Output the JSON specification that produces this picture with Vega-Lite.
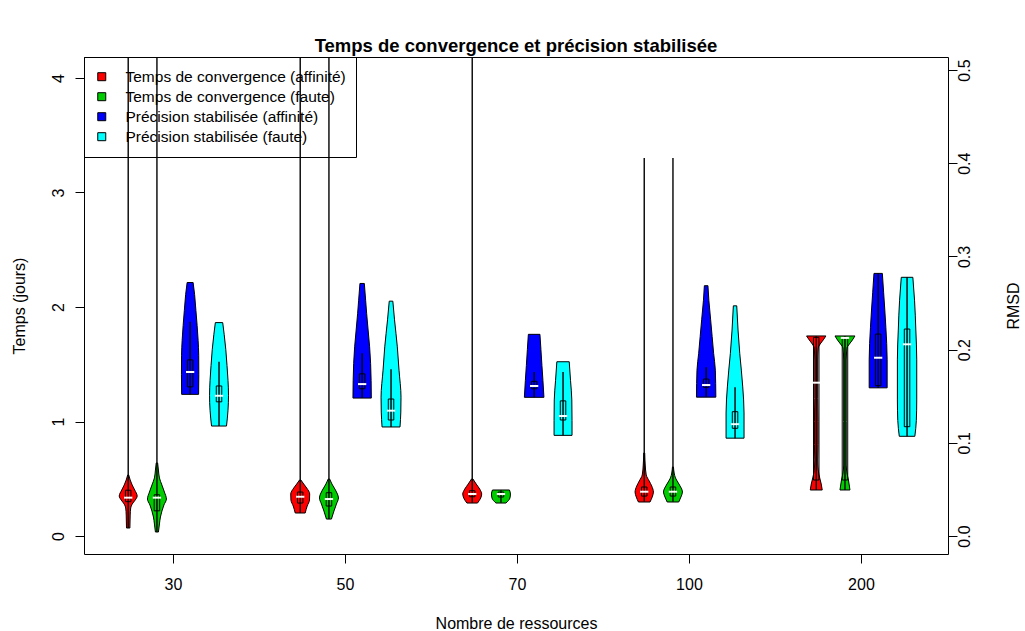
{
  "$schema": "https://vega.github.io/schema/vega-lite/v6.json",
  "width": 864,
  "height": 497,
  "autosize": "none",
  "padding": {"left": 84, "top": 57, "right": 77, "bottom": 77},
  "background": "white",
  "title": {"text": "Temps de convergence et précision stabilisée", "fontSize": 18.5, "fontWeight": "bold", "anchor": "middle", "frame": "group", "offset": 5, "dy": 19, "baseline": "alphabetic", "color": "black", "font": "Liberation Sans"},
  "config": {
    "font": "Liberation Sans",
    "view": {"stroke": "black", "strokeWidth": 1},
    "axis": {"labelFont": "Liberation Sans", "titleFont": "Liberation Sans", "labelColor": "black", "titleColor": "black", "tickColor": "black", "titleFontWeight": "normal", "grid": false, "domain": false, "labelFontSize": 16, "titleFontSize": 16, "tickSize": 9, "labelFlush": false, "labelOverlap": false}
  },
  "datasets": {
    "vt": [
      {"g": "30", "s": "Temps de convergence (affinité)", "y": 0.533, "d": 0.5},
      {"g": "30", "s": "Temps de convergence (affinité)", "y": 0.489, "d": 2},
      {"g": "30", "s": "Temps de convergence (affinité)", "y": 0.445, "d": 4},
      {"g": "30", "s": "Temps de convergence (affinité)", "y": 0.402, "d": 6.5},
      {"g": "30", "s": "Temps de convergence (affinité)", "y": 0.349, "d": 9},
      {"g": "30", "s": "Temps de convergence (affinité)", "y": 0.314, "d": 7},
      {"g": "30", "s": "Temps de convergence (affinité)", "y": 0.279, "d": 4},
      {"g": "30", "s": "Temps de convergence (affinité)", "y": 0.245, "d": 2.5},
      {"g": "30", "s": "Temps de convergence (affinité)", "y": 0.183, "d": 2},
      {"g": "30", "s": "Temps de convergence (affinité)", "y": 0.07, "d": 1.7},
      {"g": "30", "s": "Temps de convergence (faute)", "y": 0.638, "d": 0.7},
      {"g": "30", "s": "Temps de convergence (faute)", "y": 0.576, "d": 1.5},
      {"g": "30", "s": "Temps de convergence (faute)", "y": 0.507, "d": 2.5},
      {"g": "30", "s": "Temps de convergence (faute)", "y": 0.445, "d": 5},
      {"g": "30", "s": "Temps de convergence (faute)", "y": 0.384, "d": 7.5},
      {"g": "30", "s": "Temps de convergence (faute)", "y": 0.323, "d": 9.5},
      {"g": "30", "s": "Temps de convergence (faute)", "y": 0.271, "d": 7},
      {"g": "30", "s": "Temps de convergence (faute)", "y": 0.218, "d": 5},
      {"g": "30", "s": "Temps de convergence (faute)", "y": 0.166, "d": 3.5},
      {"g": "30", "s": "Temps de convergence (faute)", "y": 0.105, "d": 2.5},
      {"g": "30", "s": "Temps de convergence (faute)", "y": 0.035, "d": 1.5},
      {"g": "50", "s": "Temps de convergence (affinité)", "y": 0.489, "d": 0.7},
      {"g": "50", "s": "Temps de convergence (affinité)", "y": 0.454, "d": 3.5},
      {"g": "50", "s": "Temps de convergence (affinité)", "y": 0.419, "d": 6.5},
      {"g": "50", "s": "Temps de convergence (affinité)", "y": 0.367, "d": 9.5},
      {"g": "50", "s": "Temps de convergence (affinité)", "y": 0.314, "d": 9.3},
      {"g": "50", "s": "Temps de convergence (affinité)", "y": 0.262, "d": 7},
      {"g": "50", "s": "Temps de convergence (affinité)", "y": 0.201, "d": 5},
      {"g": "50", "s": "Temps de convergence (faute)", "y": 0.498, "d": 0.7},
      {"g": "50", "s": "Temps de convergence (faute)", "y": 0.454, "d": 3},
      {"g": "50", "s": "Temps de convergence (faute)", "y": 0.402, "d": 6.5},
      {"g": "50", "s": "Temps de convergence (faute)", "y": 0.332, "d": 9.5},
      {"g": "50", "s": "Temps de convergence (faute)", "y": 0.279, "d": 7.5},
      {"g": "50", "s": "Temps de convergence (faute)", "y": 0.218, "d": 5},
      {"g": "50", "s": "Temps de convergence (faute)", "y": 0.148, "d": 2.5},
      {"g": "70", "s": "Temps de convergence (affinité)", "y": 0.498, "d": 0.7},
      {"g": "70", "s": "Temps de convergence (affinité)", "y": 0.454, "d": 4},
      {"g": "70", "s": "Temps de convergence (affinité)", "y": 0.41, "d": 7.5},
      {"g": "70", "s": "Temps de convergence (affinité)", "y": 0.367, "d": 9.5},
      {"g": "70", "s": "Temps de convergence (affinité)", "y": 0.332, "d": 8.5},
      {"g": "70", "s": "Temps de convergence (affinité)", "y": 0.288, "d": 5.3},
      {"g": "70", "s": "Temps de convergence (faute)", "y": 0.402, "d": 8.5},
      {"g": "70", "s": "Temps de convergence (faute)", "y": 0.367, "d": 9.5},
      {"g": "70", "s": "Temps de convergence (faute)", "y": 0.332, "d": 9},
      {"g": "70", "s": "Temps de convergence (faute)", "y": 0.288, "d": 5},
      {"g": "100", "s": "Temps de convergence (affinité)", "y": 0.725, "d": 0.5},
      {"g": "100", "s": "Temps de convergence (affinité)", "y": 0.62, "d": 1},
      {"g": "100", "s": "Temps de convergence (affinité)", "y": 0.533, "d": 2},
      {"g": "100", "s": "Temps de convergence (affinité)", "y": 0.48, "d": 5},
      {"g": "100", "s": "Temps de convergence (affinité)", "y": 0.437, "d": 7.5},
      {"g": "100", "s": "Temps de convergence (affinité)", "y": 0.384, "d": 9.2},
      {"g": "100", "s": "Temps de convergence (affinité)", "y": 0.341, "d": 8},
      {"g": "100", "s": "Temps de convergence (affinité)", "y": 0.297, "d": 5.8},
      {"g": "100", "s": "Temps de convergence (faute)", "y": 0.603, "d": 0.5},
      {"g": "100", "s": "Temps de convergence (faute)", "y": 0.55, "d": 1.2},
      {"g": "100", "s": "Temps de convergence (faute)", "y": 0.507, "d": 2.5},
      {"g": "100", "s": "Temps de convergence (faute)", "y": 0.454, "d": 6},
      {"g": "100", "s": "Temps de convergence (faute)", "y": 0.384, "d": 9.5},
      {"g": "100", "s": "Temps de convergence (faute)", "y": 0.341, "d": 8},
      {"g": "100", "s": "Temps de convergence (faute)", "y": 0.297, "d": 5.8},
      {"g": "200", "s": "Temps de convergence (affinité)", "y": 1.747, "d": 9.7},
      {"g": "200", "s": "Temps de convergence (affinité)", "y": 1.712, "d": 7},
      {"g": "200", "s": "Temps de convergence (affinité)", "y": 1.677, "d": 4},
      {"g": "200", "s": "Temps de convergence (affinité)", "y": 1.642, "d": 2},
      {"g": "200", "s": "Temps de convergence (affinité)", "y": 1.537, "d": 1.5},
      {"g": "200", "s": "Temps de convergence (affinité)", "y": 1.2, "d": 1.5},
      {"g": "200", "s": "Temps de convergence (affinité)", "y": 1.0, "d": 1.8},
      {"g": "200", "s": "Temps de convergence (affinité)", "y": 0.8, "d": 1.8},
      {"g": "200", "s": "Temps de convergence (affinité)", "y": 0.664, "d": 1.5},
      {"g": "200", "s": "Temps de convergence (affinité)", "y": 0.576, "d": 2},
      {"g": "200", "s": "Temps de convergence (affinité)", "y": 0.507, "d": 3.5},
      {"g": "200", "s": "Temps de convergence (affinité)", "y": 0.454, "d": 5},
      {"g": "200", "s": "Temps de convergence (affinité)", "y": 0.402, "d": 6},
      {"g": "200", "s": "Temps de convergence (faute)", "y": 1.747, "d": 10},
      {"g": "200", "s": "Temps de convergence (faute)", "y": 1.712, "d": 7.5},
      {"g": "200", "s": "Temps de convergence (faute)", "y": 1.677, "d": 4.5},
      {"g": "200", "s": "Temps de convergence (faute)", "y": 1.642, "d": 2},
      {"g": "200", "s": "Temps de convergence (faute)", "y": 1.537, "d": 1.3},
      {"g": "200", "s": "Temps de convergence (faute)", "y": 1.0, "d": 1.3},
      {"g": "200", "s": "Temps de convergence (faute)", "y": 0.62, "d": 1.3},
      {"g": "200", "s": "Temps de convergence (faute)", "y": 0.55, "d": 2},
      {"g": "200", "s": "Temps de convergence (faute)", "y": 0.489, "d": 3.5},
      {"g": "200", "s": "Temps de convergence (faute)", "y": 0.402, "d": 5}
    ],
    "vr": [
      {"g": "30", "s": "Précision stabilisée (affinité)", "y": 0.272, "d": 3},
      {"g": "30", "s": "Précision stabilisée (affinité)", "y": 0.259, "d": 4.5},
      {"g": "30", "s": "Précision stabilisée (affinité)", "y": 0.242, "d": 5.8},
      {"g": "30", "s": "Précision stabilisée (affinité)", "y": 0.226, "d": 7},
      {"g": "30", "s": "Précision stabilisée (affinité)", "y": 0.21, "d": 8},
      {"g": "30", "s": "Précision stabilisée (affinité)", "y": 0.194, "d": 8.6},
      {"g": "30", "s": "Précision stabilisée (affinité)", "y": 0.173, "d": 8.7},
      {"g": "30", "s": "Précision stabilisée (affinité)", "y": 0.152, "d": 8.5},
      {"g": "30", "s": "Précision stabilisée (faute)", "y": 0.229, "d": 3.7},
      {"g": "30", "s": "Précision stabilisée (faute)", "y": 0.216, "d": 5.2},
      {"g": "30", "s": "Précision stabilisée (faute)", "y": 0.2, "d": 6.8},
      {"g": "30", "s": "Précision stabilisée (faute)", "y": 0.183, "d": 8},
      {"g": "30", "s": "Précision stabilisée (faute)", "y": 0.167, "d": 9},
      {"g": "30", "s": "Précision stabilisée (faute)", "y": 0.151, "d": 9.5},
      {"g": "30", "s": "Précision stabilisée (faute)", "y": 0.135, "d": 9},
      {"g": "30", "s": "Précision stabilisée (faute)", "y": 0.118, "d": 7.5},
      {"g": "50", "s": "Précision stabilisée (affinité)", "y": 0.271, "d": 2.2},
      {"g": "50", "s": "Précision stabilisée (affinité)", "y": 0.253, "d": 3.5},
      {"g": "50", "s": "Précision stabilisée (affinité)", "y": 0.239, "d": 4.5},
      {"g": "50", "s": "Précision stabilisée (affinité)", "y": 0.221, "d": 6},
      {"g": "50", "s": "Précision stabilisée (affinité)", "y": 0.203, "d": 7.5},
      {"g": "50", "s": "Précision stabilisée (affinité)", "y": 0.185, "d": 8.5},
      {"g": "50", "s": "Précision stabilisée (affinité)", "y": 0.167, "d": 9},
      {"g": "50", "s": "Précision stabilisée (affinité)", "y": 0.148, "d": 9.2},
      {"g": "50", "s": "Précision stabilisée (faute)", "y": 0.252, "d": 1.8},
      {"g": "50", "s": "Précision stabilisée (faute)", "y": 0.232, "d": 3.5},
      {"g": "50", "s": "Précision stabilisée (faute)", "y": 0.203, "d": 6.3},
      {"g": "50", "s": "Précision stabilisée (faute)", "y": 0.178, "d": 8},
      {"g": "50", "s": "Précision stabilisée (faute)", "y": 0.149, "d": 10},
      {"g": "50", "s": "Précision stabilisée (faute)", "y": 0.133, "d": 9.8},
      {"g": "50", "s": "Précision stabilisée (faute)", "y": 0.117, "d": 9},
      {"g": "70", "s": "Précision stabilisée (affinité)", "y": 0.2164, "d": 5.8},
      {"g": "70", "s": "Précision stabilisée (affinité)", "y": 0.2, "d": 6.8},
      {"g": "70", "s": "Précision stabilisée (affinité)", "y": 0.183, "d": 7.8},
      {"g": "70", "s": "Précision stabilisée (affinité)", "y": 0.167, "d": 8.8},
      {"g": "70", "s": "Précision stabilisée (affinité)", "y": 0.1488, "d": 9.8},
      {"g": "70", "s": "Précision stabilisée (faute)", "y": 0.187, "d": 6.2},
      {"g": "70", "s": "Précision stabilisée (faute)", "y": 0.167, "d": 7.5},
      {"g": "70", "s": "Précision stabilisée (faute)", "y": 0.146, "d": 8.8},
      {"g": "70", "s": "Précision stabilisée (faute)", "y": 0.124, "d": 9},
      {"g": "70", "s": "Précision stabilisée (faute)", "y": 0.108, "d": 9},
      {"g": "100", "s": "Précision stabilisée (affinité)", "y": 0.2686, "d": 1.8},
      {"g": "100", "s": "Précision stabilisée (affinité)", "y": 0.253, "d": 2.7},
      {"g": "100", "s": "Précision stabilisée (affinité)", "y": 0.232, "d": 4.5},
      {"g": "100", "s": "Précision stabilisée (affinité)", "y": 0.214, "d": 6},
      {"g": "100", "s": "Précision stabilisée (affinité)", "y": 0.196, "d": 7.5},
      {"g": "100", "s": "Précision stabilisée (affinité)", "y": 0.178, "d": 9.2},
      {"g": "100", "s": "Précision stabilisée (affinité)", "y": 0.149, "d": 9.7},
      {"g": "100", "s": "Précision stabilisée (faute)", "y": 0.247, "d": 1.7},
      {"g": "100", "s": "Précision stabilisée (faute)", "y": 0.221, "d": 3},
      {"g": "100", "s": "Précision stabilisée (faute)", "y": 0.196, "d": 4.7},
      {"g": "100", "s": "Précision stabilisée (faute)", "y": 0.178, "d": 6.3},
      {"g": "100", "s": "Précision stabilisée (faute)", "y": 0.16, "d": 7.7},
      {"g": "100", "s": "Précision stabilisée (faute)", "y": 0.132, "d": 9},
      {"g": "100", "s": "Précision stabilisée (faute)", "y": 0.105, "d": 9},
      {"g": "200", "s": "Précision stabilisée (affinité)", "y": 0.2818, "d": 4.2},
      {"g": "200", "s": "Précision stabilisée (affinité)", "y": 0.261, "d": 5.5},
      {"g": "200", "s": "Précision stabilisée (affinité)", "y": 0.224, "d": 7.7},
      {"g": "200", "s": "Précision stabilisée (affinité)", "y": 0.189, "d": 9},
      {"g": "200", "s": "Précision stabilisée (affinité)", "y": 0.159, "d": 9},
      {"g": "200", "s": "Précision stabilisée (faute)", "y": 0.2776, "d": 5.8},
      {"g": "200", "s": "Précision stabilisée (faute)", "y": 0.253, "d": 7.5},
      {"g": "200", "s": "Précision stabilisée (faute)", "y": 0.221, "d": 8.8},
      {"g": "200", "s": "Précision stabilisée (faute)", "y": 0.189, "d": 9.7},
      {"g": "200", "s": "Précision stabilisée (faute)", "y": 0.146, "d": 9.7},
      {"g": "200", "s": "Précision stabilisée (faute)", "y": 0.124, "d": 9.3},
      {"g": "200", "s": "Précision stabilisée (faute)", "y": 0.107, "d": 7.8}
    ],
    "st": [
      {"g": "30", "s": "Temps de convergence (affinité)", "lo": 0.07, "q1": 0.30, "med": 0.335, "q3": 0.40, "hi": 4.5},
      {"g": "30", "s": "Temps de convergence (faute)", "lo": 0.035, "q1": 0.22, "med": 0.335, "q3": 0.36, "hi": 4.5},
      {"g": "50", "s": "Temps de convergence (affinité)", "lo": 0.201, "q1": 0.288, "med": 0.343, "q3": 0.384, "hi": 4.5},
      {"g": "50", "s": "Temps de convergence (faute)", "lo": 0.148, "q1": 0.262, "med": 0.323, "q3": 0.378, "hi": 4.5},
      {"g": "70", "s": "Temps de convergence (affinité)", "lo": 0.291, "q1": 0.343, "med": 0.367, "q3": 0.396, "hi": 4.5},
      {"g": "70", "s": "Temps de convergence (faute)", "lo": 0.291, "q1": 0.341, "med": 0.367, "q3": 0.384, "hi": 0.40},
      {"g": "100", "s": "Temps de convergence (affinité)", "lo": 0.30, "q1": 0.349, "med": 0.387, "q3": 0.428, "hi": 3.30},
      {"g": "100", "s": "Temps de convergence (faute)", "lo": 0.30, "q1": 0.349, "med": 0.387, "q3": 0.428, "hi": 3.30},
      {"g": "200", "s": "Temps de convergence (affinité)", "lo": 0.402, "q1": 0.489, "med": 1.339, "q3": 1.735, "hi": 1.747},
      {"g": "200", "s": "Temps de convergence (faute)", "lo": 0.402, "q1": 0.489, "med": 1.73, "q3": 1.735, "hi": 1.747}
    ],
    "sr": [
      {"g": "30", "s": "Précision stabilisée (affinité)", "lo": 0.152, "q1": 0.160, "med": 0.176, "q3": 0.189, "hi": 0.230},
      {"g": "30", "s": "Précision stabilisée (faute)", "lo": 0.118, "q1": 0.144, "med": 0.1505, "q3": 0.161, "hi": 0.187},
      {"g": "50", "s": "Précision stabilisée (affinité)", "lo": 0.148, "q1": 0.158, "med": 0.163, "q3": 0.174, "hi": 0.196},
      {"g": "50", "s": "Précision stabilisée (faute)", "lo": 0.117, "q1": 0.1245, "med": 0.1345, "q3": 0.147, "hi": 0.179},
      {"g": "70", "s": "Précision stabilisée (affinité)", "lo": 0.149, "q1": 0.158, "med": 0.161, "q3": 0.166, "hi": 0.176},
      {"g": "70", "s": "Précision stabilisée (faute)", "lo": 0.108, "q1": 0.1245, "med": 0.1288, "q3": 0.145, "hi": 0.176},
      {"g": "100", "s": "Précision stabilisée (affinité)", "lo": 0.1495, "q1": 0.1595, "med": 0.162, "q3": 0.1684, "hi": 0.181},
      {"g": "100", "s": "Précision stabilisée (faute)", "lo": 0.105, "q1": 0.1156, "med": 0.120, "q3": 0.1334, "hi": 0.1595},
      {"g": "200", "s": "Précision stabilisée (affinité)", "lo": 0.159, "q1": 0.1613, "med": 0.1913, "q3": 0.2167, "hi": 0.2818},
      {"g": "200", "s": "Précision stabilisée (faute)", "lo": 0.107, "q1": 0.1173, "med": 0.2057, "q3": 0.2221, "hi": 0.2776}
    ]
  },
  "layer": [
    {
      "layer": [
        {
          "data": {"name": "vt"},
          "transform": [
            {"calculate": "indexof(['30','50','70','100','200'], datum.g) + 1 + [-0.26,-0.093,0.1,0.268][indexof(['Temps de convergence (affinité)','Temps de convergence (faute)','Précision stabilisée (affinité)','Précision stabilisée (faute)'], datum.s)]", "as": "pos"},
            {"calculate": "datum.pos - datum.d*0.0058", "as": "xl"},
            {"calculate": "datum.pos + datum.d*0.0058", "as": "xr"}
          ],
          "mark": {"type": "area", "orient": "horizontal", "interpolate": "monotone", "stroke": "black", "strokeWidth": 1, "opacity": 1, "fillOpacity": 1, "clip": true},
          "encoding": {
            "y": {"field": "y", "type": "quantitative", "scale": {"domain": [-0.157, 4.183], "nice": false, "zero": false},
              "axis": {"orient": "left", "values": [0, 1, 2, 3, 4], "format": "d", "labelAngle": -90, "labelAlign": "center", "labelBaseline": "alphabetic", "labelPadding": 12, "title": "Temps (jours)", "titleAngle": -90, "titleX": -60, "titleY": 248.5, "titleAlign": "center", "titleBaseline": "alphabetic"}},
            "x": {"field": "xl", "type": "quantitative", "stack": null, "scale": {"domain": [0.483, 5.506], "nice": false, "zero": false},
              "axis": {"orient": "bottom", "values": [1, 2, 3, 4, 5], "labelExpr": "['30','50','70','100','200'][datum.value - 1]", "labelBaseline": "alphabetic", "labelPadding": 26, "title": "Nombre de ressources", "titleX": 432, "titleY": 74, "titleAlign": "center", "titleBaseline": "alphabetic"}},
            "x2": {"field": "xr"},
            "color": {"field": "s", "type": "nominal",
              "scale": {"domain": ["Temps de convergence (affinité)", "Temps de convergence (faute)", "Précision stabilisée (affinité)", "Précision stabilisée (faute)"], "range": ["#FF0000", "#00CD00", "#0000FF", "#00FFFF"]},
              "legend": {"orient": "top-left", "offset": 0, "title": null, "strokeColor": "black", "padding": 10, "symbolType": "square", "symbolSize": 64, "symbolStrokeColor": "black", "symbolStrokeWidth": 1, "symbolOpacity": 1, "labelFontSize": 15.5, "labelFont": "Liberation Sans", "labelColor": "black", "labelOffset": 16, "labelLimit": 500, "rowPadding": 0, "clipHeight": 19.4}},
            "detail": {"field": "g"}
          }
        },
        {
          "data": {"name": "st"},
          "transform": [
            {"calculate": "indexof(['30','50','70','100','200'], datum.g) + 1 + [-0.26,-0.093,0.1,0.268][indexof(['Temps de convergence (affinité)','Temps de convergence (faute)','Précision stabilisée (affinité)','Précision stabilisée (faute)'], datum.s)]", "as": "pos"}
          ],
          "mark": {"type": "rule", "color": "black", "strokeWidth": 1.4, "clip": true},
          "encoding": {
            "x": {"field": "pos", "type": "quantitative"},
            "y": {"field": "lo", "type": "quantitative"},
            "y2": {"field": "hi"}
          }
        },
        {
          "data": {"name": "st"},
          "transform": [
            {"calculate": "indexof(['30','50','70','100','200'], datum.g) + 1 + [-0.26,-0.093,0.1,0.268][indexof(['Temps de convergence (affinité)','Temps de convergence (faute)','Précision stabilisée (affinité)','Précision stabilisée (faute)'], datum.s)]", "as": "pos"},
            {"calculate": "datum.pos - 0.016", "as": "bl"},
            {"calculate": "datum.pos + 0.016", "as": "br"}
          ],
          "mark": {"type": "rect", "filled": false, "stroke": "black", "strokeWidth": 1, "clip": true},
          "encoding": {
            "x": {"field": "bl", "type": "quantitative"},
            "x2": {"field": "br"},
            "y": {"field": "q1", "type": "quantitative"},
            "y2": {"field": "q3"}
          }
        },
        {
          "data": {"name": "st"},
          "transform": [
            {"calculate": "indexof(['30','50','70','100','200'], datum.g) + 1 + [-0.26,-0.093,0.1,0.268][indexof(['Temps de convergence (affinité)','Temps de convergence (faute)','Précision stabilisée (affinité)','Précision stabilisée (faute)'], datum.s)]", "as": "pos"},
            {"calculate": "datum.pos - 0.024", "as": "ml"},
            {"calculate": "datum.pos + 0.024", "as": "mr"}
          ],
          "mark": {"type": "rule", "color": "white", "strokeWidth": 2, "clip": true},
          "encoding": {
            "x": {"field": "ml", "type": "quantitative"},
            "x2": {"field": "mr"},
            "y": {"field": "med", "type": "quantitative"}
          }
        }
      ]
    },
    {
      "layer": [
        {
          "data": {"name": "vr"},
          "transform": [
            {"calculate": "indexof(['30','50','70','100','200'], datum.g) + 1 + [-0.26,-0.093,0.1,0.268][indexof(['Temps de convergence (affinité)','Temps de convergence (faute)','Précision stabilisée (affinité)','Précision stabilisée (faute)'], datum.s)]", "as": "pos"},
            {"calculate": "datum.pos - datum.d*0.0058", "as": "xl"},
            {"calculate": "datum.pos + datum.d*0.0058", "as": "xr"}
          ],
          "mark": {"type": "area", "orient": "horizontal", "interpolate": "monotone", "stroke": "black", "strokeWidth": 1, "opacity": 1, "fillOpacity": 1, "clip": true},
          "encoding": {
            "y": {"field": "y", "type": "quantitative", "scale": {"domain": [-0.0193, 0.514], "nice": false, "zero": false},
              "axis": {"orient": "right", "values": [0, 0.1, 0.2, 0.3, 0.4, 0.5], "format": ".1f", "labelAngle": -90, "labelAlign": "center", "labelBaseline": "alphabetic", "labelPadding": 12, "title": "RMSD", "titleAngle": -90, "titleX": 70, "titleY": 248.5, "titleAlign": "center", "titleBaseline": "alphabetic"}},
            "x": {"field": "xl", "type": "quantitative", "stack": null},
            "x2": {"field": "xr"},
            "color": {"field": "s", "type": "nominal"},
            "detail": {"field": "g"}
          }
        },
        {
          "data": {"name": "sr"},
          "transform": [
            {"calculate": "indexof(['30','50','70','100','200'], datum.g) + 1 + [-0.26,-0.093,0.1,0.268][indexof(['Temps de convergence (affinité)','Temps de convergence (faute)','Précision stabilisée (affinité)','Précision stabilisée (faute)'], datum.s)]", "as": "pos"}
          ],
          "mark": {"type": "rule", "color": "black", "strokeWidth": 1.4, "clip": true},
          "encoding": {
            "x": {"field": "pos", "type": "quantitative"},
            "y": {"field": "lo", "type": "quantitative"},
            "y2": {"field": "hi"}
          }
        },
        {
          "data": {"name": "sr"},
          "transform": [
            {"calculate": "indexof(['30','50','70','100','200'], datum.g) + 1 + [-0.26,-0.093,0.1,0.268][indexof(['Temps de convergence (affinité)','Temps de convergence (faute)','Précision stabilisée (affinité)','Précision stabilisée (faute)'], datum.s)]", "as": "pos"},
            {"calculate": "datum.pos - 0.016", "as": "bl"},
            {"calculate": "datum.pos + 0.016", "as": "br"}
          ],
          "mark": {"type": "rect", "filled": false, "stroke": "black", "strokeWidth": 1, "clip": true},
          "encoding": {
            "x": {"field": "bl", "type": "quantitative"},
            "x2": {"field": "br"},
            "y": {"field": "q1", "type": "quantitative"},
            "y2": {"field": "q3"}
          }
        },
        {
          "data": {"name": "sr"},
          "transform": [
            {"calculate": "indexof(['30','50','70','100','200'], datum.g) + 1 + [-0.26,-0.093,0.1,0.268][indexof(['Temps de convergence (affinité)','Temps de convergence (faute)','Précision stabilisée (affinité)','Précision stabilisée (faute)'], datum.s)]", "as": "pos"},
            {"calculate": "datum.pos - 0.024", "as": "ml"},
            {"calculate": "datum.pos + 0.024", "as": "mr"}
          ],
          "mark": {"type": "rule", "color": "white", "strokeWidth": 2, "clip": true},
          "encoding": {
            "x": {"field": "ml", "type": "quantitative"},
            "x2": {"field": "mr"},
            "y": {"field": "med", "type": "quantitative"}
          }
        }
      ]
    }
  ],
  "resolve": {"scale": {"y": "independent"}, "axis": {"y": "independent"}}
}
